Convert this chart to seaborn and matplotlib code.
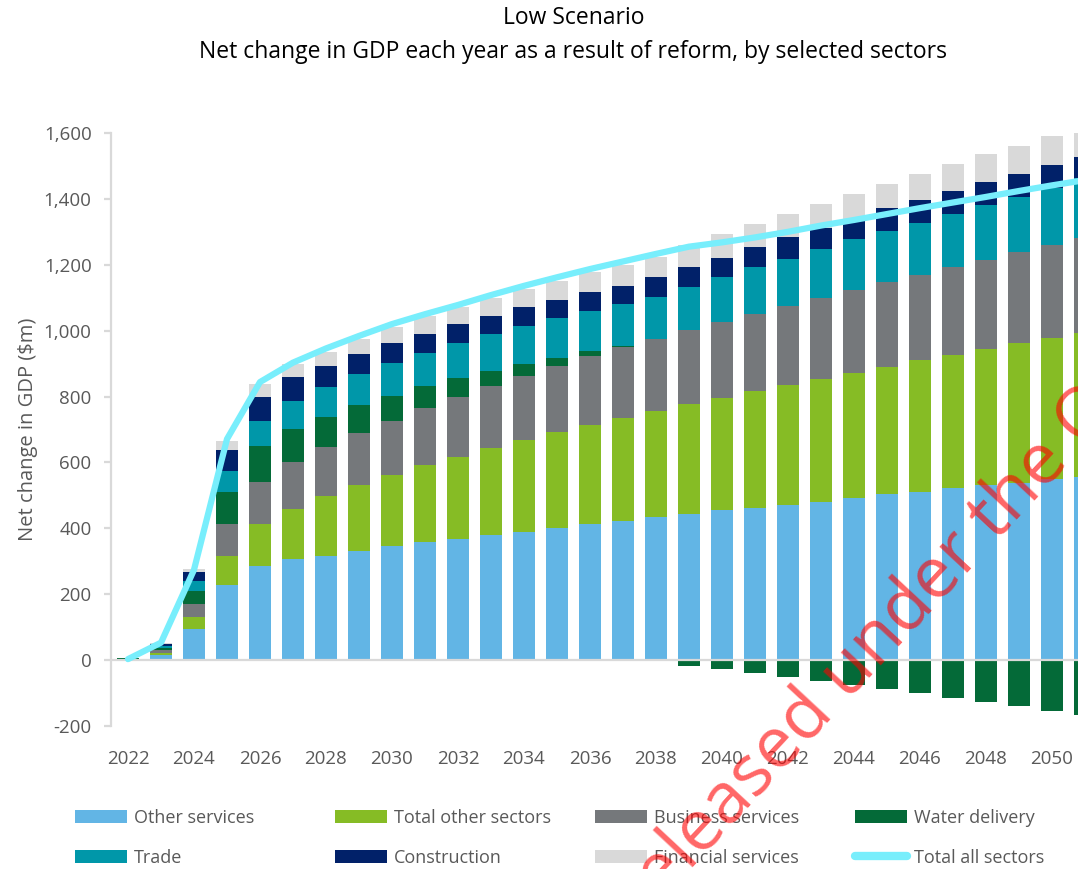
import numpy as np
import pandas as pd
import seaborn as sns
import matplotlib.pyplot as plt
from matplotlib.patches import Patch
from matplotlib.lines import Line2D

# ------------------------------ data ($m) ------------------------------

years = list(range(2022, 2052))

other_services = [2, 15, 93, 227, 287, 306, 317, 332, 346, 357, 368, 381, 389, 402, 412,
                  423, 434, 444, 457, 462, 472, 481, 492, 503, 511, 521, 531, 539, 551, 557]
total_other_sectors = [1, 7, 37, 89, 127, 154, 181, 200, 217, 235, 250, 264, 280, 289, 303,
                       313, 322, 332, 340, 354, 363, 373, 381, 388, 399, 406, 414, 423, 428, 437]
business_services = [1, 8, 40, 98, 127, 140, 148, 157, 164, 173, 181, 188, 194, 201, 207,
                     213, 220, 226, 230, 236, 240, 246, 251, 257, 260, 265, 271, 276, 281, 287]
water_delivery = [1, 8, 40, 97, 110, 103, 93, 84, 76, 66, 56, 45, 35, 26, 16,
                  5, -4, -17, -28, -40, -52, -64, -76, -88, -100, -114, -127, -140, -153, -166]
trade = [0.5, 5, 29, 62, 76, 85, 89, 95, 98, 102, 107, 112, 116, 121, 122,
         126, 127, 132, 135, 140, 144, 148, 153, 154, 158, 162, 165, 167, 172, 182]
construction = [0.5, 5, 27, 65, 73, 70, 64, 60, 62, 58, 57, 55, 57, 55, 57,
                57, 59, 58, 60, 62, 65, 63, 61, 69, 70, 70, 71, 72, 72, 64]
financial_services = [0.5, 4, 11, 27, 38, 40, 44, 46, 48, 55, 52, 53, 54, 58, 60,
                      61, 63, 67, 70, 70, 70, 75, 78, 75, 78, 82, 83, 85, 86, 91]
total_all_sectors = [3, 53, 274, 671, 844, 903, 946, 984, 1020, 1050, 1078, 1108, 1136, 1162, 1187,
                     1210, 1233, 1255, 1268, 1283, 1300, 1319, 1336, 1354, 1372, 1389, 1406, 1424, 1441, 1457]

sectors = ["Other services", "Total other sectors", "Business services", "Water delivery",
           "Trade", "Construction", "Financial services"]
colors = ["#62b5e5", "#86bc25", "#75787b", "#046a38", "#0097a9", "#012169", "#d9d9d9"]
line_color = "#78eefc"

df = pd.DataFrame({"Year": years,
                   "Other services": other_services,
                   "Total other sectors": total_other_sectors,
                   "Business services": business_services,
                   "Water delivery": water_delivery,
                   "Trade": trade,
                   "Construction": construction,
                   "Financial services": financial_services,
                   "Total all sectors": total_all_sectors})

# ------------------------------------ plot ------------------------------------

sns.set_theme(style="white")
plt.rcParams["font.family"] = ["Open Sans", "DejaVu Sans"]
grey_txt = "#595959"
axis_grey = "#d9d9d9"

fig = plt.figure(figsize=(10.78, 8.69), dpi=100)
ax = fig.add_axes([111 / 1078, 143 / 869, 967 / 1078, 593 / 869])

pos_bottom = np.zeros(len(years))
neg_bottom = np.zeros(len(years))
for name, col in zip(sectors, colors):
    vals = df[name].to_numpy(dtype=float)
    bottom = np.where(vals >= 0, pos_bottom, neg_bottom)
    ax.bar(df["Year"], vals, bottom=bottom, width=0.67, color=col, linewidth=0, zorder=2)
    pos_bottom += np.clip(vals, 0, None)
    neg_bottom += np.clip(vals, None, 0)

sns.lineplot(data=df, x="Year", y="Total all sectors", ax=ax, color=line_color,
             linewidth=4.5, zorder=4, legend=False)

ax.axhline(0, color=axis_grey, linewidth=1.6, zorder=3)

ax.set_xlim(2021.485, 2050.79)
ax.set_ylim(-200, 1600)
ax.set_yticks(range(-200, 1601, 200))
ax.set_yticklabels([f"{v:,}" for v in range(-200, 1601, 200)])
ax.set_xticks(range(2022, 2051, 2))

for s in ["top", "right", "bottom"]:
    ax.spines[s].set_visible(False)
ax.spines["left"].set_color(axis_grey)
ax.spines["left"].set_linewidth(1.6)

ax.tick_params(axis="y", colors=axis_grey, labelcolor=grey_txt, labelsize=13.5,
               length=5, width=1.6, pad=9, left=True)
ax.tick_params(axis="x", labelcolor=grey_txt, labelsize=13.5, length=0, pad=17)
ax.set_xlabel("")
ax.set_ylabel("Net change in GDP ($m)", color=grey_txt, fontsize=14.5)
ax.yaxis.set_label_coords(-0.076, 0.5)
ax.grid(False)

fig.text(0.532, 1 - 18 / 869, "Low Scenario", ha="center", va="center", fontsize=16.5, color="black")
fig.text(0.532, 1 - 52 / 869, "Net change in GDP each year as a result of reform, by selected sectors",
         ha="center", va="center", fontsize=16.5, color="black")

# legend: four columns at fixed positions
handles = [Patch(facecolor=c, edgecolor="none") for c in colors]
handles.append(Line2D([0], [0], color=line_color, linewidth=6, solid_capstyle="round"))
labels = sectors + ["Total all sectors"]
col_x = [75, 335, 595, 855]
for i, x in enumerate(col_x):
    idx = [i, i + 4]
    fig.legend([handles[j] for j in idx], [labels[j] for j in idx],
               loc="center left", bbox_to_anchor=(x / 1078, 1 - 838 / 869),
               frameon=False, fontsize=13, labelcolor=grey_txt, borderpad=0,
               borderaxespad=0, handlelength=2.9, handleheight=0.75,
               handletextpad=0.35, labelspacing=1.2)

# release stamp across the chart
fig.text(633 / 1078, 1 - 933 / 869, "Released under the Official Information Act 1982",
         rotation=47, rotation_mode="anchor", ha="left", va="baseline",
         fontsize=51, color="red", alpha=0.6, zorder=10)

fig.savefig("out.png", dpi=100)
